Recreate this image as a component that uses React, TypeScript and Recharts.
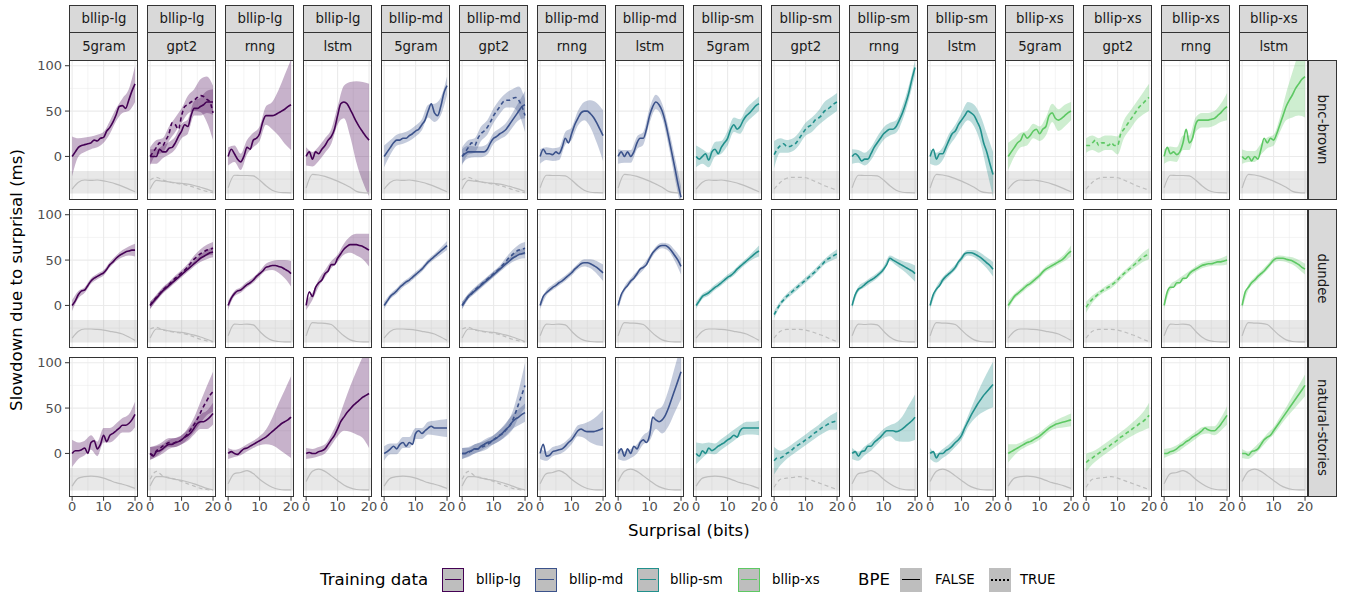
import React from 'react';
import { ComposedChart, Line, Area, XAxis, YAxis, ReferenceArea, CartesianGrid } from 'recharts';

// ---------- axes / categories ----------
const X_FINE = [0, 1, 2, 3, 4, 5, 6, 7, 8, 9, 10, 11, 12, 13, 14, 15, 16, 17, 18, 19, 20];
const X_COARSE = [0, 2, 4, 6, 8, 10, 12, 14, 16, 18, 20];
const X_TICKS = [0, 10, 20];
const Y_TICKS = [0, 50, 100];
const X_MAJOR = [0, 10, 20];
const X_MINOR = [5, 15];
const Y_MAJOR = [0, 50, 100];
const Y_MINOR = [-25, 25, 75];
const SIZES = ['bllip-lg', 'bllip-md', 'bllip-sm', 'bllip-xs'];
const MODELS = ['5gram', 'gpt2', 'rnng', 'lstm'];
const CORPORA = ['bnc-brown', 'dundee', 'natural-stories'];
const SIZE_COLORS = ['#440154', '#3B528B', '#21908C', '#5DC863'];
const BPE_LABELS = ['FALSE', 'TRUE'];

// ---------- bnc-brown: mean slowdown (x = 0..20) and ribbon half-width (x = 0,2,..,20) ----------
const br_lg_5g = [0, 5, 10, 12, 13, 14, 15, 18, 17, 20, 21, 28, 32, 38, 46, 55, 56, 53, 62, 72, 80];
const br_lg_5g_hw = [22, 10, 8, 7, 7, 6, 7, 7, 8, 12, 20];
const br_lg_gpt2F = [0, 0, 0, 8, 5, 5, 9, 10, 15, 22, 28, 35, 33, 45, 53, 53, 55, 57, 60, 60, 60];
const br_lg_gpt2F_hw = [8, 8, 7, 7, 7, 8, 8, 8, 10, 12, 14];
const br_lg_gpt2T = [0, 5, 10, 15, 12, 18, 25, 37, 35, 30, 45, 55, 57, 60, 62, 65, 67, 66, 63, 60, 48];
const br_lg_gpt2T_hw = [10, 8, 8, 8, 8, 8, 10, 12, 18, 25, 30];
const br_lg_rnng = [0, 8, 3, -3, -6, 0, 10, 8, 18, 20, 25, 38, 45, 45, 45, 46, 48, 50, 52, 55, 57];
const br_lg_rnng_hw = [10, 9, 9, 8, 8, 8, 10, 15, 25, 38, 50];
const br_lg_lstm = [0, 5, -3, 5, 3, 8, 12, 18, 22, 30, 45, 58, 60, 58, 52, 45, 38, 32, 27, 22, 18];
const br_lg_lstm_hw = [10, 8, 8, 8, 8, 10, 18, 30, 45, 55, 62];
const br_md_5g = [0, 5, 10, 15, 18, 18, 20, 20, 23, 25, 28, 30, 35, 40, 50, 58, 48, 45, 55, 70, 78];
const br_md_5g_hw = [12, 8, 6, 6, 6, 6, 6, 7, 10, 10, 10];
const br_md_gpt2F = [0, 3, 5, 5, 5, 5, 5, 5, 8, 15, 20, 22, 25, 27, 30, 35, 40, 45, 50, 55, 57];
const br_md_gpt2F_hw = [8, 7, 6, 6, 6, 6, 6, 7, 8, 10, 15];
const br_md_gpt2T = [0, 5, 10, 15, 12, 20, 25, 28, 32, 38, 45, 50, 55, 60, 62, 62, 64, 65, 62, 55, 45];
const br_md_gpt2T_hw = [10, 8, 8, 8, 8, 8, 8, 8, 10, 15, 18];
const br_md_rnng = [0, 8, 3, 3, 2, 5, 3, 10, 20, 15, 25, 35, 42, 48, 50, 50, 47, 43, 37, 30, 23];
const br_md_rnng_hw = [8, 7, 7, 7, 7, 7, 8, 10, 15, 22, 28];
const br_md_lstm = [0, 5, 0, 5, 0, 5, 15, 20, 20, 30, 45, 55, 60, 57, 50, 38, 22, 5, -12, -30, -45];
const br_md_lstm_hw = [8, 7, 7, 7, 7, 8, 8, 8, 10, 12, 12];
const br_sm_5g = [0, -3, 0, 3, -4, 5, 8, 3, 10, 15, 20, 30, 35, 30, 33, 40, 45, 48, 52, 56, 58];
const br_sm_5g_hw = [12, 8, 8, 8, 7, 8, 8, 8, 8, 8, 8];
const br_sm_gpt2T = [2, 8, 12, 14, 11, 11, 13, 15, 20, 25, 30, 33, 35, 40, 42, 45, 50, 52, 55, 58, 60];
const br_sm_gpt2T_hw = [15, 8, 7, 7, 7, 7, 8, 8, 10, 10, 10];
const br_sm_rnng = [0, 3, 0, -5, -3, -3, 3, 10, 15, 20, 25, 28, 30, 30, 33, 40, 48, 58, 70, 85, 98];
const br_sm_rnng_hw = [8, 7, 7, 7, 7, 7, 7, 7, 8, 8, 8];
const br_sm_lstm = [0, 8, -3, 3, 3, 10, 18, 25, 28, 35, 40, 45, 50, 48, 45, 38, 30, 15, 5, -8, -20];
const br_sm_lstm_hw = [8, 7, 7, 7, 7, 8, 10, 12, 15, 20, 25];
const br_xs_5g = [0, 5, 10, 15, 18, 25, 20, 23, 28, 30, 25, 30, 33, 45, 48, 42, 40, 42, 45, 48, 50];
const br_xs_5g_hw = [15, 10, 8, 8, 8, 8, 10, 10, 12, 12, 10];
const br_xs_gpt2T = [12, 12, 15, 18, 12, 15, 15, 12, 15, 12, 12, 25, 30, 35, 40, 45, 50, 55, 58, 62, 65];
const br_xs_gpt2T_hw = [8, 8, 8, 8, 8, 10, 10, 10, 10, 12, 15];
const br_xs_rnng = [0, 10, 3, 5, 2, 5, 15, 30, 15, 20, 35, 40, 40, 40, 40, 41, 42, 45, 48, 52, 55];
const br_xs_rnng_hw = [8, 8, 8, 8, 8, 8, 8, 8, 8, 10, 15];
const br_xs_lstm = [0, -3, 0, -5, 0, -3, 8, 20, 15, 20, 18, 25, 35, 45, 55, 62, 68, 75, 80, 85, 88];
const br_xs_lstm_hw = [8, 6, 6, 6, 6, 6, 8, 15, 25, 35, 45];

// ---------- dundee ----------
const du_lg_5g = [0, 5, 12, 16, 17, 22, 27, 30, 32, 34, 36, 40, 45, 48, 52, 55, 57, 59, 60, 61, 61];
const du_lg_5g_hw = [6, 4, 3, 3, 3, 3, 3, 3, 4, 5, 7];
const du_lg_gpt2F = [0, 4, 8, 12, 16, 19, 22, 25, 28, 31, 34, 37, 40, 43, 46, 49, 52, 54, 56, 58, 59];
const du_lg_gpt2F_hw = [4, 3, 3, 3, 3, 3, 3, 3, 4, 5, 6];
const du_lg_gpt2T = [0, 5, 9, 13, 17, 20, 23, 27, 30, 33, 36, 39, 43, 47, 51, 54, 57, 59, 61, 62, 63];
const du_lg_gpt2T_hw = [4, 3, 3, 3, 3, 3, 3, 4, 5, 6, 7];
const du_lg_rnng = [0, 8, 13, 16, 17, 20, 23, 25, 28, 32, 35, 38, 42, 43, 44, 44, 43, 42, 40, 38, 35];
const du_lg_rnng_hw = [5, 3, 3, 3, 3, 3, 4, 5, 7, 10, 14];
const du_lg_lstm = [0, 15, 10, 20, 25, 28, 35, 38, 45, 45, 52, 57, 62, 65, 67, 67, 67, 66, 65, 63, 61];
const du_lg_lstm_hw = [5, 4, 4, 4, 4, 4, 6, 9, 12, 14, 18];
const du_md_5g = [0, 5, 10, 13, 16, 20, 23, 26, 28, 31, 34, 37, 40, 44, 48, 51, 54, 57, 60, 63, 66];
const du_md_5g_hw = [4, 3, 3, 3, 3, 3, 3, 3, 3, 4, 5];
const du_md_gpt2F = [0, 5, 10, 13, 16, 19, 22, 25, 28, 31, 34, 37, 40, 43, 46, 49, 52, 54, 56, 57, 58];
const du_md_gpt2F_hw = [4, 3, 3, 3, 3, 3, 3, 3, 4, 5, 6];
const du_md_gpt2T = [0, 5, 10, 13, 17, 20, 23, 26, 29, 32, 35, 38, 41, 45, 49, 53, 56, 59, 61, 62, 63];
const du_md_gpt2T_hw = [4, 3, 3, 3, 3, 3, 3, 4, 5, 6, 7];
const du_md_rnng = [0, 10, 14, 17, 20, 22, 25, 27, 30, 33, 36, 40, 43, 46, 47, 47, 46, 44, 42, 39, 36];
const du_md_rnng_hw = [4, 3, 3, 3, 3, 3, 3, 4, 5, 7, 9];
const du_md_lstm = [0, 12, 18, 22, 27, 30, 35, 40, 42, 45, 52, 58, 62, 65, 66, 66, 64, 60, 55, 50, 43];
const du_md_lstm_hw = [4, 3, 3, 3, 3, 3, 3, 3, 4, 6, 9];
const du_sm_5g = [0, 5, 10, 12, 14, 17, 20, 22, 25, 28, 31, 33, 36, 40, 43, 46, 49, 52, 55, 58, 60];
const du_sm_5g_hw = [4, 3, 3, 3, 3, 3, 3, 3, 3, 4, 6];
const du_sm_gpt2T = [-10, -4, 2, 6, 10, 13, 16, 19, 22, 25, 28, 31, 34, 37, 41, 44, 48, 51, 53, 55, 57];
const du_sm_gpt2T_hw = [4, 3, 3, 3, 3, 3, 3, 3, 3, 4, 5];
const du_sm_rnng = [0, 12, 18, 20, 23, 26, 28, 30, 33, 36, 40, 45, 52, 50, 48, 46, 44, 42, 40, 38, 35];
const du_sm_rnng_hw = [4, 3, 3, 3, 3, 3, 3, 4, 5, 7, 9];
const du_sm_lstm = [0, 12, 18, 22, 28, 32, 35, 38, 42, 48, 52, 57, 58, 58, 57, 55, 53, 50, 47, 44, 40];
const du_sm_lstm_hw = [4, 3, 3, 3, 3, 3, 3, 4, 5, 6, 8];
const du_xs_5g = [0, 5, 10, 13, 16, 19, 22, 24, 27, 30, 33, 37, 40, 42, 44, 46, 48, 50, 53, 57, 60];
const du_xs_5g_hw = [5, 3, 3, 3, 3, 3, 3, 3, 3, 4, 6];
const du_xs_gpt2T = [-2, 3, 7, 10, 13, 16, 18, 20, 22, 25, 28, 32, 35, 38, 41, 44, 47, 50, 53, 55, 57];
const du_xs_gpt2T_hw = [6, 4, 3, 3, 3, 3, 3, 3, 4, 5, 6];
const du_xs_rnng = [0, 15, 20, 20, 25, 25, 30, 30, 35, 38, 40, 42, 44, 45, 46, 46, 47, 48, 48, 49, 50];
const du_xs_rnng_hw = [4, 3, 3, 3, 3, 3, 3, 3, 3, 4, 5];
const du_xs_lstm = [0, 15, 20, 25, 28, 32, 35, 38, 42, 46, 50, 52, 52, 52, 51, 50, 49, 47, 45, 42, 40];
const du_xs_lstm_hw = [4, 3, 3, 3, 3, 3, 3, 3, 4, 5, 6];

// ---------- natural-stories ----------
const ns_lg_5g = [0, 3, 3, 4, 6, 0, 12, 14, 5, 10, 20, 13, 20, 22, 25, 28, 31, 31, 33, 37, 43];
const ns_lg_5g_hw = [15, 9, 8, 8, 8, 8, 8, 8, 8, 10, 14];
const ns_lg_gpt2F = [0, -3, 2, 3, 5, 8, 10, 10, 12, 13, 15, 18, 20, 23, 28, 33, 35, 35, 37, 40, 44];
const ns_lg_gpt2F_hw = [7, 6, 5, 5, 5, 5, 6, 7, 8, 10, 12];
const ns_lg_gpt2T = [0, -2, 3, 5, 8, 10, 12, 11, 12, 13, 15, 18, 22, 27, 32, 38, 45, 52, 58, 64, 68];
const ns_lg_gpt2T_hw = [7, 6, 5, 5, 5, 5, 6, 8, 12, 16, 22];
const ns_lg_rnng = [0, 2, 0, -1, 2, 5, 6, 8, 10, 12, 14, 16, 18, 21, 24, 27, 30, 33, 35, 37, 40];
const ns_lg_rnng_hw = [6, 4, 4, 4, 4, 5, 8, 15, 25, 35, 45];
const ns_lg_lstm = [0, 1, 0, 0, 2, 3, 5, 10, 15, 20, 27, 35, 40, 45, 49, 53, 56, 59, 62, 64, 66];
const ns_lg_lstm_hw = [6, 5, 5, 5, 6, 8, 15, 25, 35, 45, 60];
const ns_md_5g = [0, 2, 5, 8, 5, 10, 12, 8, 12, 10, 22, 25, 22, 25, 28, 30, 28, 28, 28, 28, 28];
const ns_md_5g_hw = [8, 6, 6, 6, 6, 6, 6, 7, 8, 9, 10];
const ns_md_gpt2F = [0, 0, 2, 3, 5, 5, 8, 10, 12, 13, 15, 17, 20, 23, 27, 30, 35, 38, 40, 43, 45];
const ns_md_gpt2F_hw = [6, 5, 5, 5, 5, 5, 6, 7, 8, 9, 10];
const ns_md_gpt2T = [0, 0, 1, 3, 5, 5, 7, 8, 10, 12, 15, 18, 20, 22, 26, 30, 36, 45, 55, 65, 75];
const ns_md_gpt2T_hw = [6, 5, 5, 5, 5, 5, 6, 7, 10, 15, 25];
const ns_md_rnng = [0, 10, -3, -2, 2, 3, 4, 5, 8, 12, 15, 20, 25, 27, 25, 24, 24, 24, 25, 26, 28];
const ns_md_rnng_hw = [6, 5, 5, 5, 5, 5, 6, 8, 12, 16, 20];
const ns_md_lstm = [0, 5, -3, 5, 0, 8, 5, 12, 15, 12, 20, 40, 37, 35, 37, 42, 50, 60, 70, 80, 90];
const ns_md_lstm_hw = [6, 5, 5, 5, 5, 6, 10, 15, 20, 25, 30];
const ns_sm_5g = [0, -3, 3, 0, 6, 3, 5, 8, 10, 12, 15, 17, 20, 18, 25, 28, 28, 28, 28, 28, 28];
const ns_sm_5g_hw = [12, 8, 6, 6, 6, 6, 6, 6, 7, 7, 8];
const ns_sm_gpt2T = [-8, -5, -5, -3, 0, 2, 5, 8, 10, 12, 15, 17, 20, 23, 25, 28, 30, 32, 34, 35, 36];
const ns_sm_gpt2T_hw = [15, 8, 6, 6, 6, 6, 6, 6, 7, 8, 10];
const ns_sm_rnng = [0, 2, -3, 2, 3, 8, 8, 12, 15, 18, 22, 25, 25, 25, 24, 25, 27, 30, 33, 36, 40];
const ns_sm_rnng_hw = [6, 5, 5, 5, 5, 5, 6, 10, 14, 20, 25];
const ns_sm_lstm = [0, 2, -5, 0, 0, 3, 5, 8, 12, 15, 20, 28, 35, 42, 48, 54, 59, 64, 68, 72, 76];
const ns_sm_lstm_hw = [6, 5, 5, 5, 5, 5, 6, 10, 15, 20, 25];
const ns_xs_5g = [0, 2, 4, 6, 8, 10, 12, 13, 15, 17, 19, 22, 25, 28, 30, 32, 33, 34, 35, 36, 37];
const ns_xs_5g_hw = [10, 6, 4, 4, 4, 4, 4, 4, 5, 6, 7];
const ns_xs_gpt2T = [-10, -7, -5, -2, 0, 3, 5, 7, 10, 12, 15, 18, 20, 23, 25, 28, 30, 33, 35, 38, 42];
const ns_xs_gpt2T_hw = [10, 7, 6, 6, 6, 6, 6, 7, 8, 10, 14];
const ns_xs_rnng = [0, 0, 2, 3, 5, 8, 10, 13, 15, 18, 20, 22, 25, 28, 26, 25, 25, 28, 32, 37, 42];
const ns_xs_rnng_hw = [5, 4, 4, 4, 4, 4, 4, 4, 5, 7, 10];
const ns_xs_lstm = [0, 0, -2, 2, 3, 5, 10, 15, 18, 20, 25, 30, 35, 40, 45, 50, 55, 60, 65, 70, 75];
const ns_xs_lstm_hw = [5, 4, 4, 4, 4, 4, 5, 6, 8, 10, 12];

// ---------- surprisal densities (relative height in the grey band, x = 0,2,..,20) ----------
const br_d_5g = [0.2, 0.5, 0.6, 0.58, 0.6, 0.56, 0.5, 0.42, 0.32, 0.2, 0.08];
const br_d_gpt2F = [0.2, 0.58, 0.55, 0.52, 0.48, 0.45, 0.42, 0.36, 0.28, 0.2, 0.1];
const br_d_gpt2T_big = [0.6, 0.72, 0.6, 0.52, 0.46, 0.42, 0.36, 0.28, 0.18, 0.1, 0.04];
const br_d_gpt2T_small = [0.2, 0.5, 0.68, 0.72, 0.72, 0.7, 0.6, 0.48, 0.35, 0.25, 0.15];
const br_d_rnng = [0.26, 0.81, 0.8, 0.8, 0.78, 0.6, 0.35, 0.15, 0.06, 0.04, 0.03];
const br_d_lstm = [0.25, 0.85, 0.82, 0.76, 0.66, 0.55, 0.42, 0.28, 0.1, 0.04, 0.03];
const du_d_5g = [0.2, 0.5, 0.6, 0.6, 0.58, 0.55, 0.5, 0.45, 0.38, 0.25, 0.1];
const du_d_gpt2F = [0.2, 0.6, 0.58, 0.52, 0.48, 0.45, 0.4, 0.33, 0.25, 0.15, 0.05];
const du_d_gpt2T_big = [0.6, 0.68, 0.55, 0.5, 0.45, 0.42, 0.35, 0.25, 0.15, 0.08, 0.03];
const du_d_gpt2T_small = [0.2, 0.5, 0.58, 0.58, 0.58, 0.55, 0.48, 0.38, 0.28, 0.15, 0.05];
const du_d_rnng = [0.3, 0.82, 0.8, 0.82, 0.78, 0.5, 0.25, 0.1, 0.05, 0.03, 0.03];
const du_d_lstm = [0.3, 0.88, 0.86, 0.85, 0.8, 0.55, 0.3, 0.12, 0.05, 0.03, 0.03];
const ns_d_5g = [0.2, 0.55, 0.62, 0.64, 0.62, 0.55, 0.45, 0.35, 0.28, 0.2, 0.1];
const ns_d_gpt2F = [0.2, 0.62, 0.62, 0.55, 0.5, 0.45, 0.38, 0.3, 0.2, 0.1, 0.04];
const ns_d_gpt2T_big = [0.5, 0.85, 0.65, 0.58, 0.5, 0.4, 0.3, 0.2, 0.1, 0.05, 0.02];
const ns_d_gpt2T_small = [0.15, 0.5, 0.55, 0.58, 0.62, 0.55, 0.45, 0.35, 0.25, 0.15, 0.05];
const ns_d_rnng = [0.3, 0.75, 0.8, 0.88, 0.75, 0.5, 0.3, 0.15, 0.06, 0.03, 0.03];
const ns_d_lstm = [0.4, 0.85, 0.95, 0.85, 0.65, 0.45, 0.25, 0.12, 0.05, 0.03, 0.03];

type Ser = { mean: number[]; hw: number[]; bpe: boolean };
type Den = { values: number[]; bpe: boolean };
type PanelDef = { corpus: string; size: string; model: string; series: Ser[]; dens: Den[] };

const S = (mean: number[], hw: number[], bpe = false): Ser => ({ mean, hw, bpe });
const D = (values: number[], bpe = false): Den => ({ values, bpe });
const P = (corpus: string, size: string, model: string, series: Ser[], dens: Den[]): PanelDef => ({ corpus, size, model, series, dens });

const PANELS: PanelDef[] = [
  P('bnc-brown', 'bllip-lg', '5gram', [S(br_lg_5g, br_lg_5g_hw)], [D(br_d_5g)]),
  P('bnc-brown', 'bllip-lg', 'gpt2', [S(br_lg_gpt2F, br_lg_gpt2F_hw), S(br_lg_gpt2T, br_lg_gpt2T_hw, true)], [D(br_d_gpt2F), D(br_d_gpt2T_big, true)]),
  P('bnc-brown', 'bllip-lg', 'rnng', [S(br_lg_rnng, br_lg_rnng_hw)], [D(br_d_rnng)]),
  P('bnc-brown', 'bllip-lg', 'lstm', [S(br_lg_lstm, br_lg_lstm_hw)], [D(br_d_lstm)]),
  P('bnc-brown', 'bllip-md', '5gram', [S(br_md_5g, br_md_5g_hw)], [D(br_d_5g)]),
  P('bnc-brown', 'bllip-md', 'gpt2', [S(br_md_gpt2F, br_md_gpt2F_hw), S(br_md_gpt2T, br_md_gpt2T_hw, true)], [D(br_d_gpt2F), D(br_d_gpt2T_big, true)]),
  P('bnc-brown', 'bllip-md', 'rnng', [S(br_md_rnng, br_md_rnng_hw)], [D(br_d_rnng)]),
  P('bnc-brown', 'bllip-md', 'lstm', [S(br_md_lstm, br_md_lstm_hw)], [D(br_d_lstm)]),
  P('bnc-brown', 'bllip-sm', '5gram', [S(br_sm_5g, br_sm_5g_hw)], [D(br_d_5g)]),
  P('bnc-brown', 'bllip-sm', 'gpt2', [S(br_sm_gpt2T, br_sm_gpt2T_hw, true)], [D(br_d_gpt2T_small, true)]),
  P('bnc-brown', 'bllip-sm', 'rnng', [S(br_sm_rnng, br_sm_rnng_hw)], [D(br_d_rnng)]),
  P('bnc-brown', 'bllip-sm', 'lstm', [S(br_sm_lstm, br_sm_lstm_hw)], [D(br_d_lstm)]),
  P('bnc-brown', 'bllip-xs', '5gram', [S(br_xs_5g, br_xs_5g_hw)], [D(br_d_5g)]),
  P('bnc-brown', 'bllip-xs', 'gpt2', [S(br_xs_gpt2T, br_xs_gpt2T_hw, true)], [D(br_d_gpt2T_small, true)]),
  P('bnc-brown', 'bllip-xs', 'rnng', [S(br_xs_rnng, br_xs_rnng_hw)], [D(br_d_rnng)]),
  P('bnc-brown', 'bllip-xs', 'lstm', [S(br_xs_lstm, br_xs_lstm_hw)], [D(br_d_lstm)]),

  P('dundee', 'bllip-lg', '5gram', [S(du_lg_5g, du_lg_5g_hw)], [D(du_d_5g)]),
  P('dundee', 'bllip-lg', 'gpt2', [S(du_lg_gpt2F, du_lg_gpt2F_hw), S(du_lg_gpt2T, du_lg_gpt2T_hw, true)], [D(du_d_gpt2F), D(du_d_gpt2T_big, true)]),
  P('dundee', 'bllip-lg', 'rnng', [S(du_lg_rnng, du_lg_rnng_hw)], [D(du_d_rnng)]),
  P('dundee', 'bllip-lg', 'lstm', [S(du_lg_lstm, du_lg_lstm_hw)], [D(du_d_lstm)]),
  P('dundee', 'bllip-md', '5gram', [S(du_md_5g, du_md_5g_hw)], [D(du_d_5g)]),
  P('dundee', 'bllip-md', 'gpt2', [S(du_md_gpt2F, du_md_gpt2F_hw), S(du_md_gpt2T, du_md_gpt2T_hw, true)], [D(du_d_gpt2F), D(du_d_gpt2T_big, true)]),
  P('dundee', 'bllip-md', 'rnng', [S(du_md_rnng, du_md_rnng_hw)], [D(du_d_rnng)]),
  P('dundee', 'bllip-md', 'lstm', [S(du_md_lstm, du_md_lstm_hw)], [D(du_d_lstm)]),
  P('dundee', 'bllip-sm', '5gram', [S(du_sm_5g, du_sm_5g_hw)], [D(du_d_5g)]),
  P('dundee', 'bllip-sm', 'gpt2', [S(du_sm_gpt2T, du_sm_gpt2T_hw, true)], [D(du_d_gpt2T_small, true)]),
  P('dundee', 'bllip-sm', 'rnng', [S(du_sm_rnng, du_sm_rnng_hw)], [D(du_d_rnng)]),
  P('dundee', 'bllip-sm', 'lstm', [S(du_sm_lstm, du_sm_lstm_hw)], [D(du_d_lstm)]),
  P('dundee', 'bllip-xs', '5gram', [S(du_xs_5g, du_xs_5g_hw)], [D(du_d_5g)]),
  P('dundee', 'bllip-xs', 'gpt2', [S(du_xs_gpt2T, du_xs_gpt2T_hw, true)], [D(du_d_gpt2T_small, true)]),
  P('dundee', 'bllip-xs', 'rnng', [S(du_xs_rnng, du_xs_rnng_hw)], [D(du_d_rnng)]),
  P('dundee', 'bllip-xs', 'lstm', [S(du_xs_lstm, du_xs_lstm_hw)], [D(du_d_lstm)]),

  P('natural-stories', 'bllip-lg', '5gram', [S(ns_lg_5g, ns_lg_5g_hw)], [D(ns_d_5g)]),
  P('natural-stories', 'bllip-lg', 'gpt2', [S(ns_lg_gpt2F, ns_lg_gpt2F_hw), S(ns_lg_gpt2T, ns_lg_gpt2T_hw, true)], [D(ns_d_gpt2F), D(ns_d_gpt2T_big, true)]),
  P('natural-stories', 'bllip-lg', 'rnng', [S(ns_lg_rnng, ns_lg_rnng_hw)], [D(ns_d_rnng)]),
  P('natural-stories', 'bllip-lg', 'lstm', [S(ns_lg_lstm, ns_lg_lstm_hw)], [D(ns_d_lstm)]),
  P('natural-stories', 'bllip-md', '5gram', [S(ns_md_5g, ns_md_5g_hw)], [D(ns_d_5g)]),
  P('natural-stories', 'bllip-md', 'gpt2', [S(ns_md_gpt2F, ns_md_gpt2F_hw), S(ns_md_gpt2T, ns_md_gpt2T_hw, true)], [D(ns_d_gpt2F), D(ns_d_gpt2T_big, true)]),
  P('natural-stories', 'bllip-md', 'rnng', [S(ns_md_rnng, ns_md_rnng_hw)], [D(ns_d_rnng)]),
  P('natural-stories', 'bllip-md', 'lstm', [S(ns_md_lstm, ns_md_lstm_hw)], [D(ns_d_lstm)]),
  P('natural-stories', 'bllip-sm', '5gram', [S(ns_sm_5g, ns_sm_5g_hw)], [D(ns_d_5g)]),
  P('natural-stories', 'bllip-sm', 'gpt2', [S(ns_sm_gpt2T, ns_sm_gpt2T_hw, true)], [D(ns_d_gpt2T_small, true)]),
  P('natural-stories', 'bllip-sm', 'rnng', [S(ns_sm_rnng, ns_sm_rnng_hw)], [D(ns_d_rnng)]),
  P('natural-stories', 'bllip-sm', 'lstm', [S(ns_sm_lstm, ns_sm_lstm_hw)], [D(ns_d_lstm)]),
  P('natural-stories', 'bllip-xs', '5gram', [S(ns_xs_5g, ns_xs_5g_hw)], [D(ns_d_5g)]),
  P('natural-stories', 'bllip-xs', 'gpt2', [S(ns_xs_gpt2T, ns_xs_gpt2T_hw, true)], [D(ns_d_gpt2T_small, true)]),
  P('natural-stories', 'bllip-xs', 'rnng', [S(ns_xs_rnng, ns_xs_rnng_hw)], [D(ns_d_rnng)]),
  P('natural-stories', 'bllip-xs', 'lstm', [S(ns_xs_lstm, ns_xs_lstm_hw)], [D(ns_d_lstm)]),
];

// ---------- layout ----------
const FONT = '"DejaVu Sans", Verdana, sans-serif';
const COL_X0 = 69.3;
const COL_PITCH = 78;
const PANEL_W = 69.2;
const ROW_TOPS = [60, 208.6, 357.3];
const PANEL_H = 139.8;
const X_DOMAIN = [-1, 21];
const Y_DOMAIN = [-47.8, 106.3];
const D_DOMAIN = [-0.272, 5.892];
const PAD_L = 45, PAD_R = 12, PAD_T = 5, PAD_B = 30;
const YW = 40, XH = 25;
const DASH = '4 3';

function Panel({ def, left, top, showX, showY }: { def: PanelDef; left: number; top: number; showX: boolean; showY: boolean }) {
  const color = SIZE_COLORS[SIZES.indexOf(def.size)];
  const rows = X_FINE.map((x, i) => {
    const r: Record<string, any> = { x };
    def.series.forEach((s, k) => { r['m' + k] = s.mean[i]; });
    const j = X_COARSE.indexOf(x);
    if (j >= 0) {
      def.series.forEach((s, k) => { r['r' + k] = [s.mean[i] - s.hw[j], s.mean[i] + s.hw[j]]; });
      def.dens.forEach((d, k) => { r['d' + k] = d.values[j]; });
    }
    return r;
  });
  const tickStyle = { fill: '#4D4D4D', fontSize: 13, fontFamily: FONT };
  return (
    <div style={{ position: 'absolute', left: left - PAD_L, top: top - PAD_T }}>
      <ComposedChart
        width={PANEL_W + PAD_L + PAD_R}
        height={PANEL_H + PAD_T + PAD_B}
        data={rows}
        margin={{ top: PAD_T, right: PAD_R, left: showY ? PAD_L - YW : PAD_L, bottom: showX ? PAD_B - XH : PAD_B }}
      >
        <XAxis type="number" dataKey="x" domain={X_DOMAIN} ticks={X_TICKS} allowDataOverflow hide={!showX} height={XH}
          axisLine={false} tickLine={{ stroke: '#333333' }} tickSize={4} tickMargin={1} tick={tickStyle} interval={0} />
        <YAxis type="number" domain={Y_DOMAIN} ticks={Y_TICKS} allowDataOverflow hide={!showY} width={YW}
          axisLine={false} tickLine={{ stroke: '#333333' }} tickSize={4} tickMargin={3} tick={tickStyle} interval={0} />
        <YAxis yAxisId="d" type="number" domain={D_DOMAIN} allowDataOverflow hide />
        <CartesianGrid stroke="#EBEBEB" strokeWidth={0.55} verticalValues={X_MINOR} horizontalValues={Y_MINOR} />
        <CartesianGrid stroke="#EBEBEB" strokeWidth={1.1} verticalValues={X_MAJOR} horizontalValues={Y_MAJOR} />
        <ReferenceArea yAxisId="d" y1={0} y2={1} fill="#7F7F7F" fillOpacity={0.18} stroke="none" ifOverflow="hidden" />
        {def.series.map((s, k) => (
          <Area key={'a' + k} dataKey={'r' + k} type="monotone" fill={color} fillOpacity={0.3} stroke="none"
            connectNulls isAnimationActive={false} dot={false} activeDot={false} />
        ))}
        {def.dens.map((d, k) => (
          <Line key={'d' + k} yAxisId="d" dataKey={'d' + k} type="monotone" stroke="#BEBEBE" strokeWidth={1.2}
            strokeDasharray={d.bpe ? DASH : undefined} connectNulls dot={false} activeDot={false} isAnimationActive={false} />
        ))}
        {def.series.map((s, k) => (
          <Line key={'m' + k} dataKey={'m' + k} type="monotone" stroke={color} strokeWidth={1.6}
            strokeDasharray={s.bpe ? DASH : undefined} dot={false} activeDot={false} isAnimationActive={false} />
        ))}
      </ComposedChart>
    </div>
  );
}

const stripBox: React.CSSProperties = {
  position: 'absolute', boxSizing: 'border-box', background: '#D9D9D9', border: '1px solid #333333',
  display: 'flex', alignItems: 'center', justifyContent: 'center', color: '#1A1A1A', fontSize: 13.3, fontFamily: FONT,
  whiteSpace: 'nowrap',
};

function LegendKey({ left, color, dashed, border }: { left: number; color: string; dashed?: boolean; border: boolean }) {
  return (
    <div style={{ position: 'absolute', left, top: 568, width: 22, height: 24, boxSizing: 'border-box', background: '#BEBEBE',
      border: border ? `1.4px solid ${color}` : 'none' }}>
      <div style={{ position: 'absolute', left: 2, right: 2, top: '50%', marginTop: -1, height: 0,
        borderTop: `${dashed ? 2 : 1.6}px ${dashed ? 'dotted' : 'solid'} ${color}` }} />
    </div>
  );
}

const legendText: React.CSSProperties = { position: 'absolute', top: 571, fontSize: 13.3, fontFamily: FONT, color: '#000', lineHeight: '18px', whiteSpace: 'nowrap' };
const legendTitle: React.CSSProperties = { position: 'absolute', top: 570, fontSize: 16.6, fontFamily: FONT, color: '#000', lineHeight: '20px', whiteSpace: 'nowrap' };

export default function App() {
  const colLeft = (c: number) => COL_X0 + c * COL_PITCH;
  const sizeKeyLefts = [441.5, 535, 636.5, 738];
  const sizeLabelLefts = [476, 569, 670, 772];
  return (
    <div style={{ position: 'absolute', left: 0, top: 0, width: 1345, height: 596, background: '#FFFFFF', overflow: 'hidden', fontFamily: FONT }}>
      {PANELS.map((def, i) => {
        const c = SIZES.indexOf(def.size) * 4 + MODELS.indexOf(def.model);
        const r = CORPORA.indexOf(def.corpus);
        return <Panel key={i} def={def} left={colLeft(c)} top={ROW_TOPS[r]} showX={r === CORPORA.length - 1} showY={c === 0} />;
      })}
      {/* panel borders */}
      {PANELS.map((def, i) => {
        const c = SIZES.indexOf(def.size) * 4 + MODELS.indexOf(def.model);
        const r = CORPORA.indexOf(def.corpus);
        return <div key={'b' + i} style={{ position: 'absolute', left: colLeft(c), top: ROW_TOPS[r], width: PANEL_W, height: PANEL_H,
          boxSizing: 'border-box', border: '1px solid #333333', pointerEvents: 'none' }} />;
      })}
      {/* top strips */}
      {SIZES.map((s, si) => MODELS.map((m, mi) => {
        const c = si * 4 + mi;
        return (
          <React.Fragment key={s + m}>
            <div style={{ ...stripBox, left: colLeft(c), top: 4.7, width: PANEL_W, height: 28.3 }}>{s}</div>
            <div style={{ ...stripBox, left: colLeft(c), top: 32, width: PANEL_W, height: 29 }}>{m}</div>
          </React.Fragment>
        );
      }))}
      {/* right strips */}
      {CORPORA.map((cp, r) => (
        <div key={cp} style={{ ...stripBox, left: colLeft(15) + PANEL_W - 1, top: ROW_TOPS[r], width: 29, height: PANEL_H }}>
          <span style={{ display: 'inline-block', transform: 'rotate(90deg)' }}>{cp}</span>
        </div>
      ))}
      {/* axis titles */}
      <div style={{ position: 'absolute', left: 0, width: 1377.6, top: 521, textAlign: 'center', fontSize: 16.6, fontFamily: FONT, color: '#000', lineHeight: '20px' }}>Surprisal (bits)</div>
      <div style={{ position: 'absolute', left: 17 - 200, top: 280 - 10, width: 400, height: 20, textAlign: 'center', fontSize: 16.6,
        fontFamily: FONT, color: '#000', lineHeight: '20px', transform: 'rotate(-90deg)', transformOrigin: '50% 50%' }}>Slowdown due to surprisal (ms)</div>
      {/* legend */}
      <div style={{ ...legendTitle, left: 320 }}>Training data</div>
      {SIZES.map((s, i) => (
        <React.Fragment key={'lg' + s}>
          <LegendKey left={sizeKeyLefts[i]} color={SIZE_COLORS[i]} border />
          <div style={{ ...legendText, left: sizeLabelLefts[i] }}>{s}</div>
        </React.Fragment>
      ))}
      <div style={{ ...legendTitle, left: 858 }}>BPE</div>
      <LegendKey left={900} color="#000000" border={false} />
      <div style={{ ...legendText, left: 935 }}>{BPE_LABELS[0]}</div>
      <LegendKey left={989} color="#000000" dashed border={false} />
      <div style={{ ...legendText, left: 1020 }}>{BPE_LABELS[1]}</div>
    </div>
  );
}
